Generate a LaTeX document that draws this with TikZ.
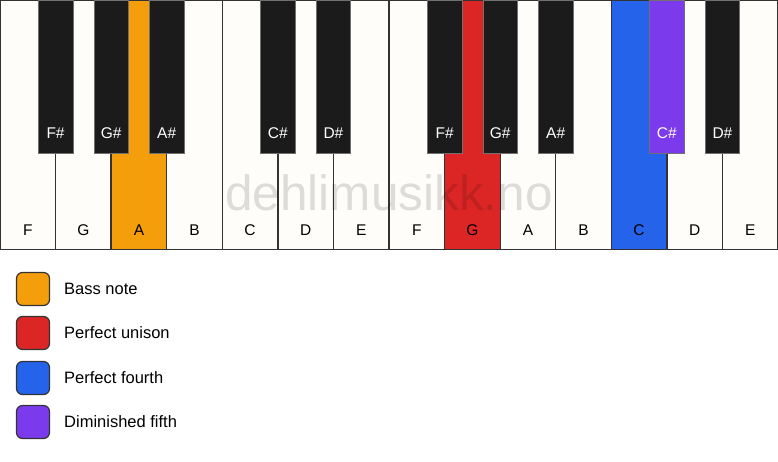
\documentclass[tikz,border=0pt]{standalone}
\usepackage{fontspec}
\setmainfont{Liberation Sans}
\definecolor{keywhite}{HTML}{FEFDFA}
\definecolor{keyblack}{HTML}{1B1B1B}
\definecolor{keyline}{HTML}{333333}
\definecolor{bassc}{HTML}{F59E0B}
\definecolor{unisonc}{HTML}{DC2626}
\definecolor{fourthc}{HTML}{2563EB}
\definecolor{dimc}{HTML}{7C3AED}
\tikzset{
  whitekey/.style={draw=keyline, line width=1.3pt},
  blackkey/.style={draw=keyline!70, line width=0.6pt, fill=keyblack},
  wlabel/.style={font=\fontsize{15.5}{15.5}\selectfont, text=black, inner sep=0pt},
  blabel/.style={font=\fontsize{15.5}{15.5}\selectfont, text=white, inner sep=0pt},
  legbox/.style={draw=keyline, line width=1.2pt, rounded corners=6pt, minimum width=33pt, minimum height=33pt, inner sep=0pt},
  legtext/.style={font=\fontsize{16.5}{16.5}\selectfont, anchor=west, inner sep=0pt},
}
\begin{document}
\begin{tikzpicture}[x=1pt,y=-1pt]
\useasboundingbox (0,0) rectangle (778,461);
\fill[white] (0,0) rectangle (778,461);
\def\kw{55.5714}
% white keys
\foreach \i/\n/\c in {0/F/keywhite,1/G/keywhite,2/A/bassc,3/B/keywhite,4/C/keywhite,5/D/keywhite,6/E/keywhite,7/F/keywhite,8/G/unisonc,9/A/keywhite,10/B/keywhite,11/C/fourthc,12/D/keywhite,13/E/keywhite}{
  \path[whitekey, fill=\c] ({\i*\kw},0.5) rectangle ({(\i+1)*\kw},249.5);
  \node[wlabel] (w\i) at ({(\i+0.5)*\kw},230) {\n};
}
% black keys
\foreach \b/\n/\c in {1/F\#/keyblack,2/G\#/keyblack,3/A\#/keyblack,5/C\#/keyblack,6/D\#/keyblack,8/F\#/keyblack,9/G\#/keyblack,10/A\#/keyblack,12/C\#/dimc,13/D\#/keyblack}{
  \path[blackkey, fill=\c] ({\b*\kw-17.3},0) rectangle ({\b*\kw+17.3},153);
  \node[blabel] (b\b) at ({\b*\kw},133) {\n};
}
% watermark
\node[font=\fontsize{49.5}{49.5}\selectfont, text=black, text opacity=0.13, inner sep=0pt, anchor=base] (wm) at (389,210) {dehlimusikk.no};
% legend
\node[legbox, fill=bassc] (l1) at (33,289) {};
\node[legtext] (t1) at (64,289) {Bass note};
\node[legbox, fill=unisonc] (l2) at (33,333) {};
\node[legtext] (t2) at (64,333) {Perfect unison};
\node[legbox, fill=fourthc] (l3) at (33,378) {};
\node[legtext] (t3) at (64,378) {Perfect fourth};
\node[legbox, fill=dimc] (l4) at (33,422) {};
\node[legtext] (t4) at (64,422) {Diminished fifth};
\end{tikzpicture}
\end{document}
